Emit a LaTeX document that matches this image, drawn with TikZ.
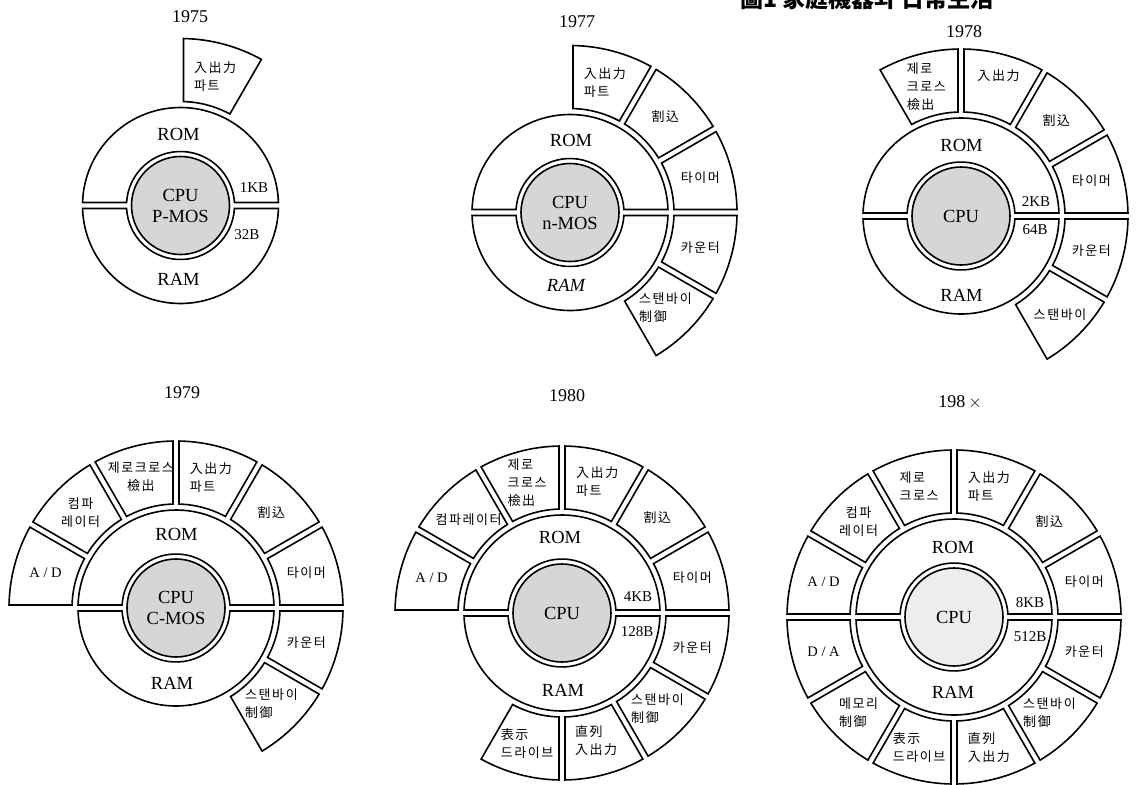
\documentclass[tikz,border=0pt]{standalone}
\usepackage{fontspec}
\setmainfont{Liberation Serif}
\newfontfamily\kr{Noto Sans CJK KR}[LetterSpace=12]
\newfontfamily\krcap{Noto Sans CJK KR}
\usetikzlibrary{calc}
\newcommand\gapw{3}
% annular sector with parallel gaps: cx cy r1 r2 a1 a2
\newcommand\annsec[6]{%
 \begin{scope}[shift={(#1pt,-#2pt)}]
 \pgfmathsetmacro\bIa{#5+asin(\gapw/#3)}
 \pgfmathsetmacro\bIb{#6-asin(\gapw/#3)}
 \pgfmathsetmacro\bOa{#5+asin(\gapw/#4)}
 \pgfmathsetmacro\bOb{#6-asin(\gapw/#4)}
 \draw[secline] (\bIa:#3pt) -- (\bOa:#4pt) arc[start angle=\bOa,end angle=\bOb,radius=#4pt] -- (\bIb:#3pt) arc[start angle=\bIb,end angle=\bIa,radius=#3pt] -- cycle;
 \end{scope}}
% peripheral sector: cx cy a1 a2 labelradius name style text
\newcommand\per[8]{%
 \annsec{#1}{#2}{104}{167}{#3}{#4}
 \pgfmathsetmacro\midA{(#3+#4)/2}
 \begin{scope}[shift={(#1pt,-#2pt)}]
 \node[#7] (#6) at (\midA:#5pt) {#8};
 \end{scope}}
% core: cx cy fill
\newcommand\core[3]{%
 \annsec{#1}{#2}{54}{98}{0}{180}
 \annsec{#1}{#2}{54}{98}{180}{360}
 \draw[secline,fill=#3] (#1pt,-#2pt) circle[radius=49pt];}
\tikzset{
 secline/.style={draw=black,line width=1.6pt,fill=white},
 kl/.style={font=\kr\fontsize{13}{18}\selectfont,align=left,inner sep=0pt},
 klc/.style={font=\kr\fontsize{13}{18}\selectfont,align=center,inner sep=0pt},
 big/.style={font=\fontsize{18.5}{21}\selectfont,align=center,inner sep=0pt},
 mid/.style={font=\fontsize{15}{17}\selectfont,inner sep=0pt},
 ad/.style={font=\fontsize{14.5}{17}\selectfont,inner sep=0pt},
 year/.style={font=\fontsize{18}{20}\selectfont,inner sep=0pt},
}
\begin{document}
\begin{tikzpicture}
\useasboundingbox[fill=white] (0pt,-785pt) rectangle (1136pt,0pt);
\node[font=\krcap\bfseries\fontsize{23}{25}\selectfont,inner sep=0pt] (cap) at (867pt,1pt) {圖1\ 家庭機器와 日常生活};

% ---------- 1975 ----------
\node[year] (y1) at (190pt,-17pt) {1975};
\core{180.5}{205.5}{black!16}
\node[big] (cpu1) at (180.5pt,-205.5pt) {CPU\\P-MOS};
\node[big] (rom1) at (178.5pt,-134.5pt) {ROM};
\node[big] (ram1) at (178.5pt,-279.5pt) {RAM};
\node[mid] (kb1) at (254pt,-188pt) {1KB};
\node[mid] (b1) at (247pt,-235pt) {32B};
\per{180.5}{205.5}{60}{90}{134}{io1}{kl}{入出力\\파트}

% ---------- 1977 ----------
\node[year] (y2) at (577pt,-22pt) {1977};
\core{570}{212.5}{black!16}
\node[big] (cpu2) at (570pt,-212.5pt) {CPU\\n-MOS};
\node[big] (rom2) at (571pt,-140pt) {ROM};
\node[big,font=\fontsize{18.5}{21}\selectfont\itshape] (ram2) at (566pt,-285pt) {RAM};
\per{570}{212.5}{60}{90}{135}{io2}{kl}{入出力\\파트}
\per{570}{212.5}{30}{60}{135}{int2}{kl}{割込}
\per{570}{212.5}{0}{30}{135}{tim2}{kl}{타이머}
\per{570}{212.5}{-30}{0}{135}{cnt2}{kl}{카운터}
\per{570}{212.5}{-60}{-30}{135}{stb2}{kl}{스탠바이\\制御}

% ---------- 1978 ----------
\node[year] (y3) at (964pt,-32pt) {1978};
\core{961}{216}{black!16}
\node[big] (cpu3) at (961pt,-216pt) {CPU};
\node[big] (rom3) at (961.5pt,-145pt) {ROM};
\node[big] (ram3) at (961.5pt,-295pt) {RAM};
\node[mid] (kb3) at (1036pt,-202pt) {2KB};
\node[mid] (b3) at (1035pt,-230pt) {64B};
\per{961}{216}{90}{120}{134}{zc3}{kl}{제로\\크로스\\檢出}
\per{961}{216}{60}{90}{145}{io3}{kl}{入出力}
\per{961}{216}{30}{60}{135}{int3}{kl}{割込}
\per{961}{216}{0}{30}{135}{tim3}{kl}{타이머}
\per{961}{216}{-30}{0}{135}{cnt3}{kl}{카운터}
\per{961}{216}{-60}{-30}{140}{stb3}{kl}{스탠바이}

% ---------- 1979 ----------
\node[year] (y4) at (182pt,-393pt) {1979};
\core{176}{608}{black!16}
\node[big] (cpu4) at (176pt,-608pt) {CPU\\C-MOS};
\node[big] (rom4) at (176.5pt,-534pt) {ROM};
\node[big] (ram4) at (172pt,-683pt) {RAM};
\per{176}{608}{150}{180}{135}{ad4}{ad}{A / D}
\per{176}{608}{120}{150}{135}{cmp4}{klc}{컴파\\레이터}
\per{176}{608}{90}{120}{136}{zc4}{klc}{제로크로스\\檢出}
\per{176}{608}{60}{90}{135}{io4}{kl}{入出力\\파트}
\per{176}{608}{30}{60}{135}{int4}{kl}{割込}
\per{176}{608}{0}{30}{135}{tim4}{kl}{타이머}
\per{176}{608}{-30}{0}{135}{cnt4}{kl}{카운터}
\per{176}{608}{-60}{-30}{135}{stb4}{kl}{스탠바이\\制御}

% ---------- 1980 ----------
\node[year] (y5) at (567pt,-396pt) {1980};
\core{562}{613}{black!16}
\node[big] (cpu5) at (562pt,-613pt) {CPU};
\node[big] (rom5) at (560pt,-537pt) {ROM};
\node[big] (ram5) at (563pt,-690pt) {RAM};
\node[mid] (kb5) at (638pt,-597pt) {4KB};
\node[mid] (b5) at (637pt,-632pt) {128B};
\per{562}{613}{150}{180}{135}{ad5}{ad}{A / D}
\per{562}{613}{120}{150}{132}{cmp5}{kl}{컴파레이터}
\per{562}{613}{90}{120}{135}{zc5}{kl}{제로\\크로스\\檢出}
\per{562}{613}{60}{90}{136}{io5}{kl}{入出力\\파트}
\per{562}{613}{30}{60}{135}{int5}{kl}{割込}
\per{562}{613}{0}{30}{135}{tim5}{kl}{타이머}
\per{562}{613}{-30}{0}{135}{cnt5}{kl}{카운터}
\per{562}{613}{-60}{-30}{135}{stb5}{kl}{스탠바이\\制御}
\per{562}{613}{-90}{-60}{132}{ser5}{kl}{直列\\入出力}
\per{562}{613}{-120}{-90}{135}{dsp5}{kl}{表示\\드라이브}

% ---------- 198x ----------
\node[year] (y6) at (960pt,-402pt) {198\,$\times$};
\core{954}{617}{black!7}
\node[big] (cpu6) at (954pt,-617pt) {CPU};
\node[big] (rom6) at (953pt,-547pt) {ROM};
\node[big] (ram6) at (953pt,-692pt) {RAM};
\node[mid] (kb6) at (1030pt,-603pt) {8KB};
\node[mid] (b6) at (1030pt,-637pt) {512B};
\per{954}{617}{150}{180}{135}{ad6}{ad}{A / D}
\per{954}{617}{180}{210}{135}{da6}{ad}{D / A}
\per{954}{617}{120}{150}{135}{cmp6}{klc}{컴파\\레이터}
\per{954}{617}{90}{120}{135}{zc6}{kl}{제로\\크로스}
\per{954}{617}{60}{90}{135}{io6}{kl}{入出力\\파트}
\per{954}{617}{30}{60}{135}{int6}{kl}{割込}
\per{954}{617}{0}{30}{135}{tim6}{kl}{타이머}
\per{954}{617}{-30}{0}{135}{cnt6}{kl}{카운터}
\per{954}{617}{-60}{-30}{135}{stb6}{kl}{스탠바이\\制御}
\per{954}{617}{-90}{-60}{135}{ser6}{kl}{直列\\入出力}
\per{954}{617}{-120}{-90}{135}{dsp6}{kl}{表示\\드라이브}
\per{954}{617}{-150}{-120}{135}{mem6}{kl}{메모리\\制御}
\end{tikzpicture}
\end{document}
